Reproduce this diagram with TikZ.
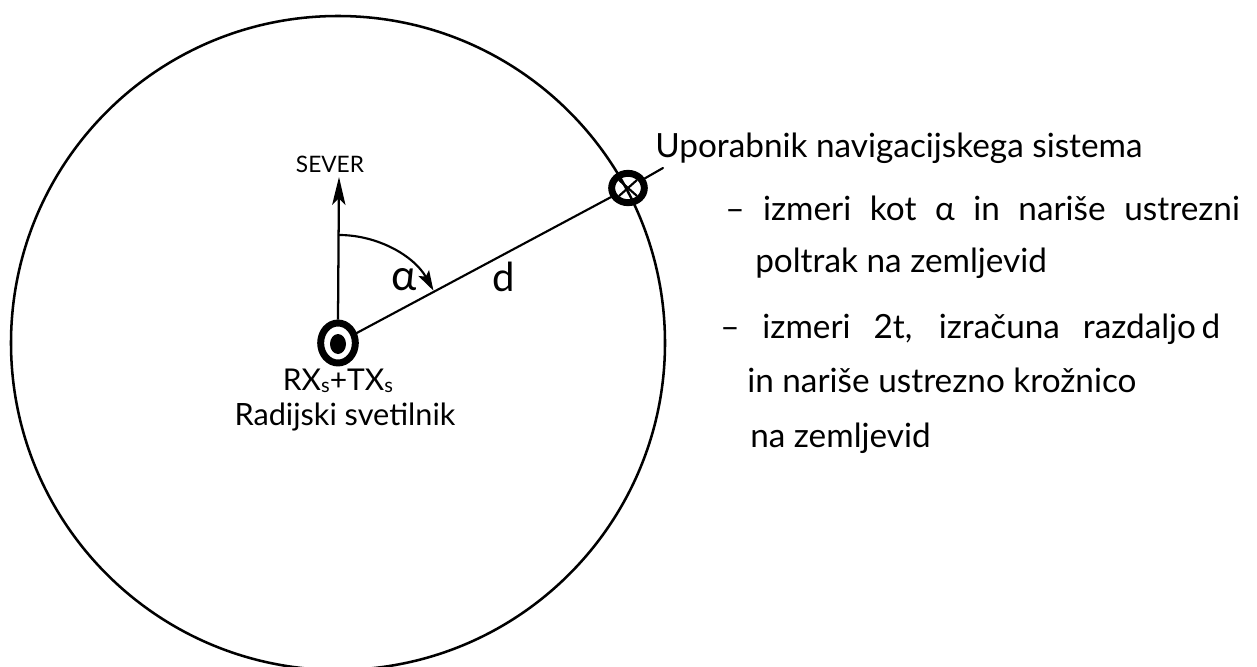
\documentclass[tikz,border=0pt]{standalone}
\usepackage{fontspec}
\setmainfont{Lato}
\usetikzlibrary{arrows.meta,shapes.geometric}
\begin{document}
\begin{tikzpicture}[x=0.75pt,y=-0.75pt,
  ring/.style={draw,ellipse,line width=5.2pt,inner sep=0pt},
  thin/.style={line width=1.6pt,line cap=round},
  txt/.style={anchor=base west,inner sep=0pt,font=\fontsize{25}{28}\selectfont},
  lbl/.style={inner sep=0pt}]
\useasboundingbox (0,0) rectangle (1257,667);
\clip (0,0) rectangle (1257,667);
\fill[white] (0,0) rectangle (1257,667);
% range circle
\draw[line width=1.9pt] (338,343) circle [radius=327];
% beacon
\node[ring,minimum width=26pt,minimum height=30pt] (bcn) at (338,343) {};
\fill (338,344) ellipse [x radius=8,y radius=10];
% user
\node[ring,minimum width=24.5pt,minimum height=22pt] (usr) at (628,188) {};
\draw[line width=1.6pt] (628,188) ++(-9,-8) -- ++(18,16);
\draw[line width=1.6pt] (628,188) ++(9,-8) -- ++(-18,16);
% north arrow
\coordinate (ntip) at (339,177);
\draw[line width=1.7pt,-{Stealth[length=21pt,width=10pt,inset=5pt]}] (bcn.north) -- (ntip);
\node[lbl,font=\fontsize{17}{19}\selectfont,anchor=base] (sever) at (330,172) {SEVER};
% distance line and leader
\coordinate (lead) at (663,168);
\draw[thin] (bcn) -- (usr);
\draw[thin] (usr) -- (lead);
% angle arc
\coordinate (arcstart) at (339,235);
\draw[thin,-{Stealth[length=15pt,width=9pt,inset=3pt]}] (arcstart) arc [start angle=-90,end angle=-29,radius=108];
\node[lbl,font=\fontsize{32}{34}\selectfont] (alpha) at (404,280) {α};
\node[lbl,font=\fontsize{30}{32}\selectfont] (dlbl) at (504,277) {d};
% beacon labels
\node[lbl,anchor=base,font=\fontsize{22.5}{26}\selectfont] (rxtx) at (338,390) {RX\raisebox{-1.5pt}{\fontsize{15}{16}\selectfont s}+TX\raisebox{-1.5pt}{\fontsize{15}{16}\selectfont s}};
\node[lbl,anchor=base,font=\fontsize{23}{26}\selectfont] (radij) at (345,425) {Radijski svetilnik};
% right text
\node[txt] (l1) at (655,157) {Uporabnik navigacijskega sistema};
\node[txt] (l2) at (725,220) {\makebox[386pt][s]{– izmeri kot α in nariše ustrezni}};
\node[txt] (l3) at (755,272) {poltrak na zemljevid};
\node[txt] (l4) at (720,338) {\makebox[375pt][s]{– izmeri 2t, izračuna razdaljo\,d}};
\node[txt] (l5) at (747,392) {in nariše ustrezno krožnico};
\node[txt] (l6) at (750,447) {na zemljevid};
\end{tikzpicture}
\end{document}
